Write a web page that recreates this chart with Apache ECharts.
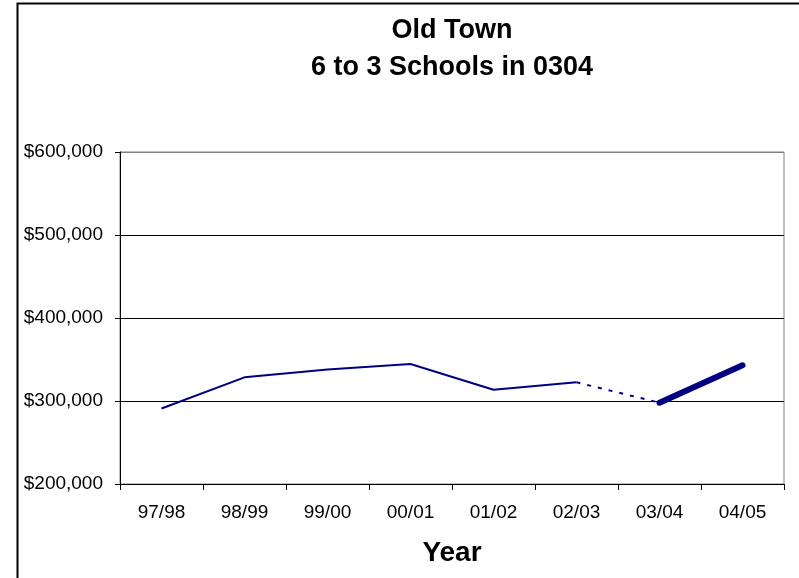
<!DOCTYPE html>
<html>
<head>
<meta charset="utf-8">
<script src="https://cdn.jsdelivr.net/npm/echarts@6/dist/echarts.min.js"></script>
<style>
html,body{margin:0;padding:0;background:#fff;}
#chart{width:799px;height:578px;}
</style>
</head>
<body>
<div id="chart"></div>
<script>
var years = ['97/98','98/99','99/00','00/01','01/02','02/03','03/04','04/05'];
var costs = [291000, 328500, 338000, 344500, 313500, 322500, 298000, 343000];
var yTicks = [200000, 300000, 400000, 500000, 600000];
var titleLines = ['Old Town', '6 to 3 Schools in 0304'];
var xName = 'Year';

// segments: solid (97/98–02/03), dashed (02/03–03/04), thick (03/04–04/05)
function segment(from, to) {
  return costs.map(function (v, i) { return (i >= from && i <= to) ? v : null; });
}
var solidData = segment(0, 5);
var dashData = segment(5, 6);
var thickData = segment(6, 7);

function money(v) {
  return '$' + String(v).replace(/\B(?=(\d{3})+(?!\d))/g, ',');
}

var FONT = "'Liberation Sans', Arial, Helvetica, sans-serif";
var chart = echarts.init(document.getElementById('chart'));
chart.setOption({
  animation: false,
  backgroundColor: '#fff',
  graphic: [
    { type: 'rect', shape: { x: 17.5, y: 3.5, width: 1000, height: 1000 },
      style: { fill: 'none', stroke: '#000', lineWidth: 2 }, z: 100 },
    { type: 'text', x: 452, y: 31,
      style: { text: titleLines[0], font: 'bold 27px ' + FONT, fill: '#000', align: 'center', verticalAlign: 'middle' } },
    { type: 'text', x: 452, y: 68,
      style: { text: titleLines[1], font: 'bold 27px ' + FONT, fill: '#000', align: 'center', verticalAlign: 'middle' } },
    { type: 'text', x: 452, y: 553,
      style: { text: xName, font: 'bold 28px ' + FONT, fill: '#000', align: 'center', verticalAlign: 'middle' } }
  ],
  grid: { left: 120, right: 15, top: 152, bottom: 94, show: true, borderColor: '#808080', borderWidth: 1, containLabel: false },
  xAxis: {
    type: 'category',
    data: years,
    boundaryGap: true,
    axisLine: { lineStyle: { color: '#000', width: 1 } },
    axisTick: { show: true, inside: false, length: 6, alignWithLabel: false, lineStyle: { color: '#000' } },
    axisLabel: { color: '#000', fontSize: 19, fontFamily: FONT, margin: 19, interval: 0 },
    splitLine: { show: false }
  },
  yAxis: {
    type: 'value',
    min: yTicks[0],
    max: yTicks[yTicks.length - 1],
    interval: yTicks[1] - yTicks[0],
    axisLine: { show: true, lineStyle: { color: '#000', width: 1 } },
    axisTick: { show: true, inside: false, length: 5, lineStyle: { color: '#000' } },
    axisLabel: { color: '#000', fontSize: 19, fontFamily: FONT, margin: 17, formatter: money },
    splitLine: { show: true, lineStyle: { color: ['#000', '#000', '#000', '#000', '#808080'], width: 1 } }
  },
  series: [
    { name: 'solid', type: 'line', data: solidData, symbol: 'none', connectNulls: false,
      lineStyle: { color: '#000080', width: 2 }, z: 3 },
    { name: 'dashed', type: 'line', data: dashData, symbol: 'none', connectNulls: false,
      lineStyle: { color: '#000080', width: 2, type: [4, 7] }, z: 3 },
    { name: 'thick', type: 'line', data: thickData, symbol: 'none', connectNulls: false,
      lineStyle: { color: '#000080', width: 6, cap: 'round' }, z: 3 }
  ]
});
</script>
</body>
</html>
